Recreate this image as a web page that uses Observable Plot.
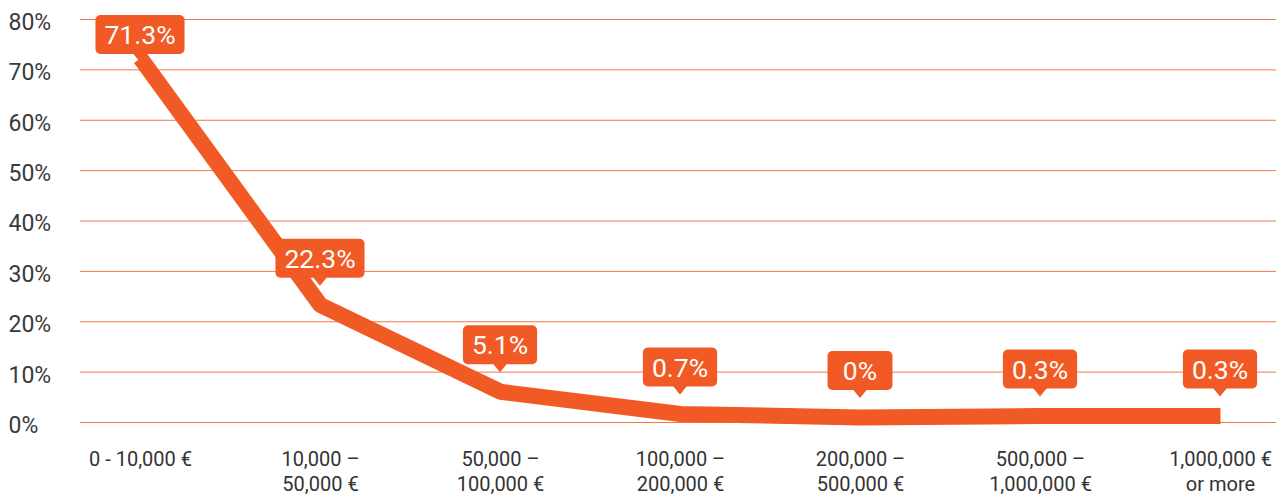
<!DOCTYPE html>
<html><head><meta charset="utf-8">
<script src="https://cdn.jsdelivr.net/npm/d3@7"></script>
<script src="https://cdn.jsdelivr.net/npm/@observablehq/plot@0.6"></script>
<style>
html,body{margin:0;padding:0;background:#fff;}
#chart{width:1288px;height:496px;overflow:hidden;}
</style></head><body><div id="chart"></div>
<script>
const categories = ["0 - 10,000 €", "10,000 –\n50,000 €", "50,000 –\n100,000 €", "100,000 –\n200,000 €", "200,000 –\n500,000 €", "500,000 –\n1,000,000 €", "1,000,000 €\nor more"];
const values = [71.3, 22.3, 5.1, 0.7, 0, 0.3, 0.3];
const valueLabels = ["71.3%", "22.3%", "5.1%", "0.7%", "0%", "0.3%", "0.3%"];
const yTicks = [0, 10, 20, 30, 40, 50, 60, 70, 80];

const data = categories.map((c, i) => ({category: c, value: values[i], label: valueLabels[i]}));
const ORANGE = "#f15a24";

function callouts(index, scales, channels, dimensions) {
  const g = d3.create("svg:g").attr("class", "callouts");
  data.forEach(d => {
    const px = scales.x(d.category);
    const tip = Math.max(scales.y(d.value) - 24, dimensions.marginTop + 43);
    const c = g.append("g").attr("class", "callout").attr("transform", `translate(${px},${tip})`);
    c.append("rect").attr("x", -34).attr("y", -47).attr("width", 68).attr("height", 39).attr("rx", 5).attr("fill", ORANGE);
    c.append("path").attr("d", "M-7,-8.5L0,0L7,-8.5Z").attr("fill", ORANGE);
    c.append("text").attr("x", 0).attr("y", -27.5).attr("dy", "0.36em").attr("text-anchor", "middle")
      .attr("fill", "#fff").attr("font-size", 26.5).text(d.label);
  });
  return g.node();
}

const plot = Plot.plot({
  width: 1288,
  height: 496,
  marginTop: 19,
  marginBottom: 74,
  marginLeft: 80,
  marginRight: 12,
  style: {fontFamily: "Roboto, 'Liberation Sans', sans-serif", background: "#fff", overflow: "visible"},
  x: {type: "point", domain: categories, range: [137, 1222], padding: 0, axis: null},
  y: {domain: [0, 80], axis: null},
  marks: [
    Plot.ruleY(yTicks, {stroke: "#f37646", strokeWidth: 1}),
    Plot.text(yTicks, {y: d => d, frameAnchor: "left", dx: -72, dy: 3, textAnchor: "start", text: d => d + "%", fontSize: 23, fill: "#3a3a3a"}),
    Plot.text(categories, {x: d => d, frameAnchor: "bottom", lineAnchor: "top", dy: 25.5, text: d => d, fontSize: 20, lineHeight: 1.27, fill: "#333"}),
    Plot.line(data, {x: "category", y: "value", stroke: ORANGE, strokeWidth: 16, strokeLinecap: "butt", strokeLinejoin: "miter", dy: -5}),
    callouts
  ]
});
document.getElementById("chart").appendChild(plot);

document.querySelectorAll(".callout").forEach(node => {
  const t = node.querySelector("text");
  const w = Math.max(65, t.getComputedTextLength() + 18);
  const r = node.querySelector("rect");
  r.setAttribute("x", -w / 2);
  r.setAttribute("width", w);
});
</script>
</body></html>
